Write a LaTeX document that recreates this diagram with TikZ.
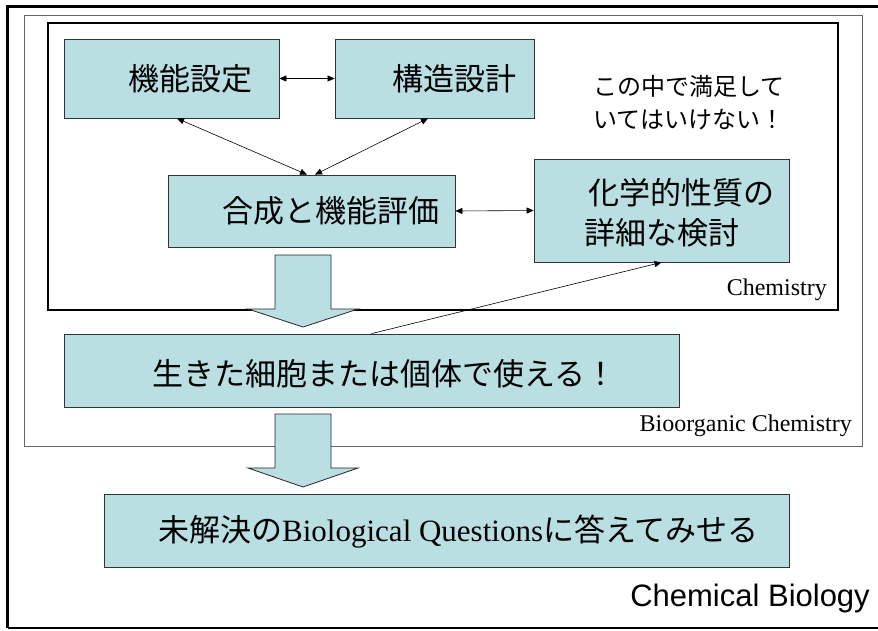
\documentclass[tikz,border=0pt]{standalone}
\usepackage{fontspec}
\setmainfont{Liberation Serif}
\newfontfamily\jp{Noto Sans CJK JP}
\newfontfamily\arial{Liberation Sans}
\usetikzlibrary{arrows.meta}
\definecolor{boxc}{HTML}{B9DFE2}
\begin{document}
\begin{tikzpicture}[x=1pt,y=-1pt,
 cbox/.style={draw=black!80, fill=boxc, line width=0.8pt, inner sep=0pt},
 jtext/.style={anchor=west, inner sep=0pt, font=\jp\fontsize{31}{36}\selectfont},
 note/.style={anchor=west, inner sep=0pt, font=\jp\fontsize{24}{28}\selectfont},
 tlabel/.style={anchor=east, inner sep=0pt, font=\fontsize{24}{28}\selectfont},
 link/.style={line width=0.6pt, {Triangle[length=7pt,width=6pt]}-{Triangle[length=7pt,width=6pt]}},
 onelink/.style={line width=0.6pt, -{Triangle[length=7pt,width=6pt]}},
 blockarrow/.style={draw=black!85, fill=boxc, line width=0.8pt, line join=miter}]
\useasboundingbox (0,0) rectangle (878,630);
\fill[white] (0,0) rectangle (878,630);
% outer frame (right edge lies outside the picture)
\draw[line width=2.5pt] (880,6.5) -- (7.5,6.5) -- (7.5,628);
\draw[line width=1.8pt] (7.5,628) -- (880,628);
% Bioorganic Chemistry frame
\draw[black!60, line width=1pt] (24,15) rectangle (862,446);
% Chemistry frame
\draw[line width=1.4pt] (48,23) rectangle (838,310);
% boxes
\node[cbox, minimum width=215pt, minimum height=79pt] (A) at (171.5,78.5) {};
\node[cbox, minimum width=199pt, minimum height=79pt] (B) at (434.5,78.5) {};
\node[cbox, minimum width=287pt, minimum height=72pt] (C) at (311.5,211) {};
\node[cbox, minimum width=255pt, minimum height=103pt] (D) at (661.5,210.5) {};
\node[cbox, minimum width=615pt, minimum height=73pt] (E) at (371.5,370.5) {};
\node[cbox, minimum width=685pt, minimum height=73pt] (F) at (446.5,530.5) {};
% box texts
\node[jtext] (tA) at (128,79) {機能設定};
\node[jtext] (tB) at (392,79) {構造設計};
\node[jtext] (tC) at (222,211) {合成と機能評価};
\node[jtext] (tD1) at (588,193) {化学的性質の};
\node[jtext] (tD2) at (584,233) {詳細な検討};
\node[jtext] (tE) at (152,374) {生きた細胞または個体で使える！};
\node[jtext] (tF) at (158,532) {未解決の{\rmfamily Biological Questions}に答えてみせる};
% note
\node[note] (n1) at (593,86) {この中で満足して};
\node[note] (n2) at (593,120) {いてはいけない！};
% frame labels
\node[tlabel] (lc) at (827,290) {Chemistry};
\node[tlabel] (lb) at (852,426) {Bioorganic Chemistry};
\node[anchor=east, inner sep=0pt, font=\arial\fontsize{31}{36}\selectfont] (lcb) at (870,598) {Chemical Biology};
% connectors
\draw[link] (A.east) -- (B.west);
\draw[link] ([xshift=5.5pt]A.south) -- ([xshift=-4.5pt]C.north);
\draw[link] ([xshift=-6.5pt]B.south) -- ([xshift=3.5pt]C.north);
\draw[link] (C.east) -- (D.west);
\draw[onelink] (E.north) -- (D.south);
% block arrows
\draw[blockarrow] (275,255) -- (331,255) -- (331,309) -- (358,309) -- (303,327) -- (248,309) -- (275,309) -- cycle;
\draw[blockarrow] (275,414) -- (331,414) -- (331,468) -- (358,468) -- (303,487) -- (248,468) -- (275,468) -- cycle;
\end{tikzpicture}
\end{document}
